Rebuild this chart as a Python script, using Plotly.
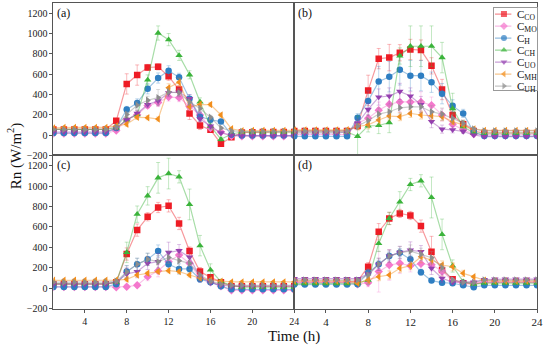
import plotly.graph_objects as go

hours = list(range(1, 25))
series_keys = ['CO', 'MO', 'H', 'CH', 'UO', 'MH', 'UH']
legend_labels = ['C<sub>CO</sub>', 'C<sub>MO</sub>', 'C<sub>H</sub>', 'C<sub>CH</sub>',
                 'C<sub>UO</sub>', 'C<sub>MH</sub>', 'C<sub>UH</sub>']
panel_labels = ['(a)', '(b)', '(c)', '(d)']
y_ticks = [-200, 0, 200, 400, 600, 800, 1000, 1200]
y_tick_text = ['\u2212200', '0', '200', '400', '600', '800', '1000', '1200']
x_ticks = [4, 8, 12, 16, 20, 24]

# ---- panel (a)
a_CO = [55,55,55,55,55,55,140,503,590,665,671,578,448,213,94,51,-85,-22,25,28,30,30,30,30]
a_MO = [15,15,15,15,15,15,45,150,200,290,320,374,368,280,197,68,30,-10,-12,-12,-12,-12,-12,-12]
a_H  = [20,20,20,20,20,20,70,252,316,455,561,632,568,358,181,150,132,3,-5,-5,-5,-5,-5,-5]
a_CH = [55,55,55,55,55,55,70,150,200,542,1004,939,784,593,326,87,-42,10,30,30,30,30,30,30]
a_UO = [30,30,30,30,30,30,70,148,213,300,336,416,423,358,158,87,20,0,-5,-5,-5,-5,-5,-5]
a_MH = [70,75,75,75,75,75,90,106,174,171,158,465,520,278,300,300,197,61,42,45,45,45,45,45]
a_UH = [55,55,55,55,55,55,80,203,293,342,368,423,416,326,261,174,70,40,35,35,35,35,35,35]

# ---- panel (b)
b_CO = [40,40,40,40,40,40,90,439,752,762,810,842,836,681,448,197,106,40,20,20,20,20,20,20]
b_MO = [5,5,5,5,5,5,116,165,245,303,326,326,326,294,197,106,51,10,5,5,5,5,5,5]
b_H  = [-13,-13,-13,-13,-13,-13,170,336,526,574,642,584,584,520,407,287,213,30,-10,-10,-10,-10,-10,-10]
b_CH = [30,30,30,30,30,30,-13,90,94,123,778,874,874,874,762,261,84,20,20,20,20,20,20,20]
b_UO = [20,20,20,20,20,29,116,252,374,384,429,384,300,132,58,51,35,0,-15,-15,-15,-15,-15,-15]
b_MH = [50,50,50,50,50,51,84,100,148,187,181,213,197,190,181,132,100,60,45,45,45,45,45,45]
b_UH = [40,40,40,40,40,40,87,142,206,229,268,278,278,229,206,165,116,60,40,40,40,40,40,40]

# ---- panel (c)
c_CO = [40,40,40,40,40,40,60,335,569,699,790,806,634,364,163,107,60,20,20,20,20,20,20,20]
c_MO = [13,13,13,13,13,13,10,16,30,114,172,260,325,244,100,60,20,-20,-20,-20,-20,-20,-20,-20]
c_H  = [13,13,13,13,13,13,40,163,234,283,364,234,189,189,88,59,20,-10,-10,-10,-10,-10,-10,-10]
c_CH = [46,46,46,46,46,46,60,351,725,904,1080,1122,1090,820,417,179,65,30,10,10,10,10,10,10]
c_UO = [40,40,40,40,40,40,60,140,163,244,260,351,368,304,110,60,30,20,20,20,20,20,20,20]
c_MH = [78,78,78,78,78,78,80,88,130,146,163,172,163,130,100,80,70,62,62,62,62,62,62,62]
c_UH = [60,60,60,60,60,60,70,160,234,283,260,302,270,244,130,70,40,29,29,29,29,29,29,29]

# ---- panel (d)
d_CO = [60,60,60,60,60,60,70,211,553,683,732,712,608,358,179,88,50,40,60,60,60,60,60,60]
d_MO = [60,60,60,60,60,60,40,55,163,228,244,220,240,230,170,70,50,50,60,60,60,60,60,60]
d_H  = [36,36,36,36,36,36,40,153,234,315,348,283,156,75,55,49,30,10,29,29,29,29,29,29]
d_CH = [46,46,46,46,46,46,50,80,439,683,845,1015,1051,888,527,218,65,40,50,50,50,50,50,50]
d_UO = [95,95,95,95,95,95,95,140,234,315,351,374,358,195,98,60,60,60,85,90,90,90,90,90]
d_MH = [72,72,72,72,72,72,50,81,114,130,195,221,309,276,228,211,146,114,78,72,72,72,72,72]
d_UH = [80,80,80,80,80,80,80,130,234,315,348,364,332,299,200,80,60,60,80,80,80,80,80,80]

# ---- error bars (standard deviations)
ea_CO = [5,5,5,5,5,5,15,100,100,30,30,40,40,60,40,20,20,10,5,5,5,5,5,5]
ea_MO = [5,5,5,5,5,5,10,20,30,30,40,40,40,40,30,20,10,10,5,5,5,5,5,5]
ea_H  = [5,5,5,5,5,5,15,30,40,50,50,50,40,40,40,30,20,10,5,5,5,5,5,5]
ea_CH = [5,5,5,5,5,5,10,30,40,50,70,60,50,40,40,30,20,10,5,5,5,5,5,5]
ea_UO = [5,5,5,5,5,5,10,20,30,30,40,40,40,40,30,20,10,10,5,5,5,5,5,5]
ea_MH = [5,5,5,5,5,5,10,20,20,20,20,40,40,30,30,20,20,10,5,5,5,5,5,5]
ea_UH = [5,5,5,5,5,5,10,30,40,40,80,40,40,40,30,20,10,10,5,5,5,5,5,5]

eb_CO = [5,5,5,5,5,5,40,150,100,130,80,100,100,80,100,60,40,20,5,5,5,5,5,5]
eb_MO = [5,5,5,5,5,5,40,60,80,100,100,100,100,80,60,40,20,10,5,5,5,5,5,5]
eb_H  = [5,5,5,5,5,5,40,100,150,150,150,150,150,100,100,60,40,20,5,5,5,5,5,5]
eb_CH = [5,5,5,5,5,5,200,60,80,100,80,200,200,200,150,150,60,20,5,5,5,5,5,5]
eb_UO = [5,5,5,5,5,5,40,60,80,80,80,80,80,60,40,30,20,10,5,5,5,5,5,5]
eb_MH = [5,5,5,5,5,5,20,40,40,40,40,40,40,40,40,30,20,10,5,5,5,5,5,5]
eb_UH = [5,5,5,5,5,5,30,60,60,60,60,60,60,60,60,40,20,10,5,5,5,5,5,5]

ec_CO = [5,5,5,5,5,5,10,60,60,40,50,60,60,40,40,20,10,10,5,5,5,5,5,5]
ec_MO = [5,5,5,5,5,5,10,20,20,40,60,60,60,50,40,20,10,10,5,5,5,5,5,5]
ec_H  = [5,5,5,5,5,5,10,60,60,60,60,60,50,40,30,20,10,10,5,5,5,5,5,5]
ec_CH = [5,5,5,5,5,5,10,100,80,90,150,150,60,150,100,60,20,10,5,5,5,5,5,5]
ec_UO = [5,5,5,5,5,5,10,60,60,60,80,100,60,60,40,20,10,10,5,5,5,5,5,5]
ec_MH = [5,5,5,5,5,5,10,20,20,20,20,20,20,20,20,20,10,10,5,5,5,5,5,5]
ec_UH = [5,5,5,5,5,5,10,60,60,60,60,60,60,60,40,20,10,10,5,5,5,5,5,5]

ed_CO = [5,5,5,5,5,5,10,40,80,60,40,40,60,150,60,20,10,10,5,5,5,5,5,5]
ed_MO = [5,5,5,5,5,5,10,40,200,150,100,60,60,60,40,20,10,10,5,5,5,5,5,5]
ed_H  = [5,5,5,5,5,5,10,30,40,40,40,40,30,20,20,20,10,10,5,5,5,5,5,5]
ed_CH = [5,5,5,5,5,5,10,40,80,60,100,60,60,200,150,60,20,10,5,5,5,5,5,5]
ed_UO = [5,5,5,5,5,5,10,40,60,60,60,80,60,60,40,20,10,10,5,5,5,5,5,5]
ed_MH = [5,5,5,5,5,5,10,30,40,40,40,40,60,40,40,40,30,10,5,5,5,5,5,5]
ed_UH = [5,5,5,5,5,5,10,60,60,60,60,60,60,60,40,20,10,10,5,5,5,5,5,5]

panels = [
    ([a_CO, a_MO, a_H, a_CH, a_UO, a_MH, a_UH], [ea_CO, ea_MO, ea_H, ea_CH, ea_UO, ea_MH, ea_UH]),
    ([b_CO, b_MO, b_H, b_CH, b_UO, b_MH, b_UH], [eb_CO, eb_MO, eb_H, eb_CH, eb_UO, eb_MH, eb_UH]),
    ([c_CO, c_MO, c_H, c_CH, c_UO, c_MH, c_UH], [ec_CO, ec_MO, ec_H, ec_CH, ec_UO, ec_MH, ec_UH]),
    ([d_CO, d_MO, d_H, d_CH, d_UO, d_MH, d_UH], [ed_CO, ed_MO, ed_H, ed_CH, ed_UO, ed_MH, ed_UH]),
]

colors = [(238, 28, 37), (244, 120, 205), (46, 126, 194), (59, 179, 59),
          (148, 64, 176), (242, 142, 28), (141, 141, 141)]
symbols = ['square', 'diamond', 'circle', 'triangle-up', 'triangle-down',
           'triangle-left', 'triangle-right']

FONT = 'Liberation Serif'
W, H = 550, 358
xl, xm, xr = 54 / W, 297.5 / W, 543 / W
yt, ym, yb = 1 - 3 / H, 1 - 158 / H, 1 - 314 / H

fig = go.Figure()
axis_ids = ['', '2', '3', '4']
for p, (vals, errs) in enumerate(panels):
    for s in range(len(series_keys)):
        r, g, b = colors[s]
        fig.add_trace(go.Scatter(
            x=hours, y=vals[s],
            xaxis='x' + axis_ids[p], yaxis='y' + axis_ids[p],
            mode='lines+markers',
            name=legend_labels[s],
            showlegend=False,
            line=dict(color=f'rgba({r},{g},{b},0.45)', width=1.2),
            marker=dict(symbol=symbols[s], size=6.5, color=f'rgb({r},{g},{b})',
                        line=dict(width=0)),
            error_y=dict(type='data', array=errs[s], visible=True,
                         color=f'rgba({r},{g},{b},0.3)', thickness=1, width=2),
        ))

# ---- legend drawn in its own small axes (units: pixels inside the box)
leg_x0, leg_x1, leg_y0, leg_y1 = 499, 543, 8.3, 91.7
for s in range(len(series_keys)):
    r, g, b = colors[s]
    yy = 6 + 12.2 * s
    fig.add_trace(go.Scatter(
        x=[1.5, 10.5, 18], y=[yy, yy, yy], xaxis='x5', yaxis='y5',
        mode='lines+markers', showlegend=False, hoverinfo='skip',
        line=dict(color=f'rgba({r},{g},{b},0.5)', width=1.2),
        marker=dict(symbol=symbols[s], size=[0, 6, 0], color=f'rgb({r},{g},{b})',
                    line=dict(width=0)),
    ))

frame = dict(showline=True, linecolor='#555', linewidth=1, mirror=True,
             showgrid=False, zeroline=False)
x_domains = [[xl, xm], [xm, xr], [xl, xm], [xm, xr]]
y_domains = [[ym, yt], [ym, yt], [yb, ym], [yb, ym]]
layout_axes = {}
for p in range(4):
    xa = dict(frame, domain=x_domains[p], range=[1, 24], anchor='y' + axis_ids[p],
              tickvals=x_ticks, tickfont=dict(family=FONT, size=10 if p != 3 else 11, color='#222'))
    if p >= 2:
        xa.update(ticks='outside', ticklen=3, tickcolor='#555', showticklabels=True)
    else:
        xa.update(ticks='', showticklabels=False)
    ya = dict(frame, domain=y_domains[p], range=[-200, 1300], anchor='x' + axis_ids[p],
              tickvals=y_ticks, ticktext=y_tick_text,
              tickfont=dict(family=FONT, size=10, color='#222'))
    if p in (0, 2):
        ya.update(ticks='outside', ticklen=3, tickcolor='#555', showticklabels=True)
    else:
        ya.update(ticks='', showticklabels=False)
    layout_axes['xaxis' + axis_ids[p]] = xa
    layout_axes['yaxis' + axis_ids[p]] = ya

layout_axes['xaxis5'] = dict(domain=[leg_x0 / W, leg_x1 / W], range=[0, leg_x1 - leg_x0],
                             anchor='y5', showline=True, mirror=True, linecolor='#999',
                             linewidth=1, showgrid=False, zeroline=False,
                             showticklabels=False, ticks='', fixedrange=True)
layout_axes['yaxis5'] = dict(domain=[1 - leg_y1 / H, 1 - leg_y0 / H], range=[leg_y1 - leg_y0, 0],
                             anchor='x5', showline=True, mirror=True, linecolor='#999',
                             linewidth=1, showgrid=False, zeroline=False,
                             showticklabels=False, ticks='', fixedrange=True)

label_pos = [(xl, yt), (xm, yt), (xl, ym), (xm, ym)]
annotations = []
for p in range(4):
    annotations.append(dict(text=panel_labels[p], x=label_pos[p][0] + 2 / W,
                            y=label_pos[p][1] - 1 / H, xref='paper', yref='paper',
                            xanchor='left', yanchor='top', showarrow=False,
                            font=dict(family=FONT, size=12, color='#111')))
for s in range(len(series_keys)):
    annotations.append(dict(text=legend_labels[s], x=21.5, y=6 + 12.2 * s + 1,
                            xref='x5', yref='y5', xanchor='left', yanchor='middle',
                            showarrow=False, font=dict(family=FONT, size=11, color='#111')))
annotations.append(dict(text='Rn (W/m<sup>2</sup>)', x=15 / W, y=ym, xref='paper', yref='paper',
                        textangle=-90, showarrow=False, xanchor='center', yanchor='middle',
                        font=dict(family=FONT, size=15, color='#111')))
annotations.append(dict(text='Time (h)', x=xm, y=1 - 342 / H, xref='paper', yref='paper',
                        showarrow=False, xanchor='center', yanchor='middle',
                        font=dict(family=FONT, size=15, color='#111')))

fig.update_layout(
    width=W, height=H,
    margin=dict(l=0, r=0, t=0, b=0),
    paper_bgcolor='white', plot_bgcolor='white',
    font=dict(family=FONT, color='#111'),
    showlegend=False,
    hovermode=False,
    annotations=annotations,
    **layout_axes,
)

fig.write_html('out.html', config={'displayModeBar': False, 'staticPlot': True},
               post_script="document.body.style.margin='0px';document.body.style.overflow='hidden';")
